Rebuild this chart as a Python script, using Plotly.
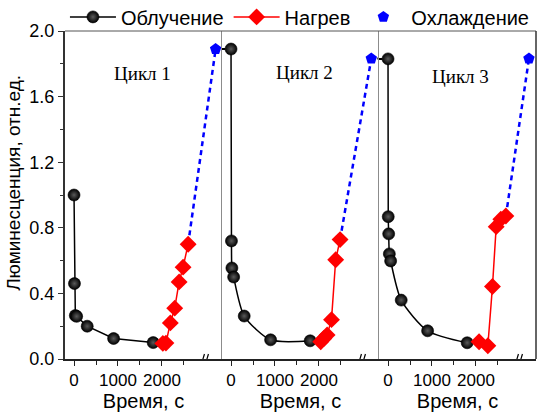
import plotly.graph_objects as go

# ---- data: luminescence (rel. units) vs time (s) for three cycles ----
# Irradiation (Облучение)
irr1_t = [0, 10, 30, 60, 300, 900, 1800]
irr1_v = [1.00, 0.46, 0.265, 0.26, 0.20, 0.125, 0.10]
irr2_t = [0, 10, 20, 60, 300, 900, 1800]
irr2_v = [1.89, 0.72, 0.555, 0.50, 0.262, 0.117, 0.111]
irr3_t = [0, 5, 15, 30, 60, 300, 900, 1800]
irr3_v = [1.83, 0.868, 0.763, 0.641, 0.598, 0.359, 0.172, 0.099]

# Heating (Нагрев)
heat1_t = [2020, 2090, 2190, 2290, 2390, 2480, 2595]
heat1_v = [0.095, 0.097, 0.22, 0.31, 0.47, 0.56, 0.70]
heat2_t = [2040, 2110, 2185, 2285, 2380, 2480]
heat2_v = [0.105, 0.125, 0.147, 0.24, 0.605, 0.728]
heat3_t = [2070, 2270, 2375, 2460, 2565, 2680]
heat3_v = [0.105, 0.081, 0.442, 0.807, 0.852, 0.872]

# Cooling (Охлаждение) - one point after the axis break
cool_t = [3220, 3190, 3205]
cool_v = [1.89, 1.832, 1.832]

cycle_labels = ["Цикл 1", "Цикл 2", "Цикл 3"]
cycle_label_t = [1550, 1660, 1640]
cycle_label_v = [1.74, 1.745, 1.725]

x_ticks = [0, 1000, 2000]
x_minor = [500, 1500, 2500]
y_ticks = [0.0, 0.4, 0.8, 1.2, 1.6, 2.0]

X_RANGE = [-205, 3365]
Y_RANGE = [0, 2.0]
BREAK_AT = 3000

irr = [(irr1_t, irr1_v), (irr2_t, irr2_v), (irr3_t, irr3_v)]
heat = [(heat1_t, heat1_v), (heat2_t, heat2_v), (heat3_t, heat3_v)]

SANS = "Liberation Sans, Arial, sans-serif"
SERIF = "Liberation Serif, Times New Roman, serif"

sphere = dict(symbol="circle", size=12, color="#000000",
              gradient=dict(type="radial", color="#5a5a5a"),
              line=dict(width=0.6, color="#000000"))
diamond = dict(symbol="diamond", size=13, color="#ff0000", line=dict(width=0))
pentagon = dict(symbol="pentagon", size=12, color="#0000ff", line=dict(width=0))

fig = go.Figure()

for k in range(3):
    xa = "x" if k == 0 else f"x{k+1}"
    ya = "y" if k == 0 else f"y{k+1}"
    it, iv = irr[k]
    ht, hv = heat[k]

    # dotted link from the previous cycle's cooling point to this cycle's start
    if k > 0:
        fig.add_trace(go.Scatter(
            x=[X_RANGE[0], it[0]], y=[iv[0], iv[0]], mode="lines",
            line=dict(color="black", width=2, dash="dot"),
            xaxis=xa, yaxis=ya, showlegend=False, hoverinfo="skip"))
    if k < 2:
        fig.add_trace(go.Scatter(
            x=[cool_t[k], X_RANGE[1]], y=[cool_v[k], cool_v[k]], mode="lines",
            line=dict(color="black", width=2, dash="dot"),
            xaxis=xa, yaxis=ya, showlegend=False, hoverinfo="skip"))

    # cooling: dashed line from end of heating to the cooled value
    fig.add_trace(go.Scatter(
        x=[ht[-1], cool_t[k]], y=[hv[-1], cool_v[k]], mode="lines",
        line=dict(color="#0000ff", width=2.5, dash="5px,4px"),
        xaxis=xa, yaxis=ya, showlegend=False, hoverinfo="skip"))

    fig.add_trace(go.Scatter(
        x=it, y=iv, mode="lines+markers", name="Облучение",
        legendgroup="irr", showlegend=(k == 0),
        line=dict(color="black", width=1.5,
                  shape="linear" if k == 0 else "spline", smoothing=0.7),
        marker=sphere, xaxis=xa, yaxis=ya))

    fig.add_trace(go.Scatter(
        x=ht, y=hv, mode="lines+markers", name="Нагрев",
        legendgroup="heat", showlegend=(k == 0),
        line=dict(color="#ff0000", width=1.5),
        marker=diamond, xaxis=xa, yaxis=ya))

    fig.add_trace(go.Scatter(
        x=[cool_t[k]], y=[cool_v[k]], mode="markers", name="Охлаждение",
        legendgroup="cool", showlegend=(k == 0),
        marker=pentagon, xaxis=xa, yaxis=ya, cliponaxis=False))

    fig.add_annotation(
        x=cycle_label_t[k], y=cycle_label_v[k], xref=xa, yref=ya,
        text=cycle_labels[k], showarrow=False,
        font=dict(family=SERIF, size=19, color="black"))

    # axis-break marks "//" on the time axis
    for dx in (-3, 1):
        fig.add_shape(
            type="line", xref=xa, yref=ya,
            xsizemode="pixel", ysizemode="pixel",
            xanchor=BREAK_AT, yanchor=0,
            x0=dx - 1.5, x1=dx + 1.5, y0=-5, y1=5,
            line=dict(color="black", width=1.2))

axis_common = dict(range=X_RANGE, tickvals=x_ticks, ticks="outside",
                   ticklen=5, tickwidth=1.2, tickcolor="#222",
                   showline=True, linecolor="#222", linewidth=1.5,
                   showgrid=False, zeroline=False,
                   minor=dict(tickvals=x_minor, ticks="outside", ticklen=4,
                              tickwidth=1.2, tickcolor="#222"),
                   tickfont=dict(family=SANS, size=17, color="black"),
                   title=dict(text="Время, с", standoff=5,
                              font=dict(family=SANS, size=20, color="black")))

layout = dict(
    width=538, height=416,
    margin=dict(l=65, r=2, t=31, b=57, autoexpand=False),
    paper_bgcolor="white", plot_bgcolor="white",
    font=dict(family=SANS, color="black"),
    legend=dict(orientation="h", x=-0.0001, xanchor="left",
                y=1.043, yanchor="middle",
                font=dict(family=SANS, size=20, color="black"),
                itemwidth=46, bgcolor="rgba(0,0,0,0)"),
)
for k in range(3):
    key = "xaxis" if k == 0 else f"xaxis{k+1}"
    d = dict(axis_common)
    d["domain"] = [k / 3, (k + 1) / 3]
    d["anchor"] = "y" if k == 0 else f"y{k+1}"
    layout[key] = d

layout["yaxis"] = dict(
    range=Y_RANGE, tickvals=y_ticks, tickformat=".1f", ticks="outside",
    ticklen=5, tickwidth=1.2, tickcolor="#333",
    showline=True, linecolor="#333", linewidth=2,
    showgrid=False, zeroline=False,
    minor=dict(dtick=0.2, ticks="outside", ticklen=3, tickwidth=1.2,
               tickcolor="#333"),
    tickfont=dict(family=SANS, size=18, color="black"),
    anchor="x")
for k in (1, 2):
    layout[f"yaxis{k+1}"] = dict(
        range=Y_RANGE, matches="y", showticklabels=False, ticks="",
        showline=True, linecolor="#8c8c8c", linewidth=1,
        showgrid=False, zeroline=False, anchor=f"x{k+1}")

fig.update_layout(**layout)

# y-axis title, placed beside the tick labels
fig.add_annotation(
    text="Люминесценция, отн.ед.", textangle=-90, showarrow=False,
    xref="paper", yref="paper", x=0, y=0.537, xanchor="center",
    yanchor="middle", xshift=-51,
    font=dict(family=SANS, size=19, color="black"))

# outer frame: top and right edges
fig.add_shape(type="line", xref="paper", yref="paper", x0=0, x1=1, y0=1, y1=1,
              line=dict(color="#555", width=1))
fig.add_shape(type="line", xref="paper", yref="paper", x0=1, x1=1, y0=0, y1=1,
              line=dict(color="#333", width=1.5))

fig.write_html("out.html")
